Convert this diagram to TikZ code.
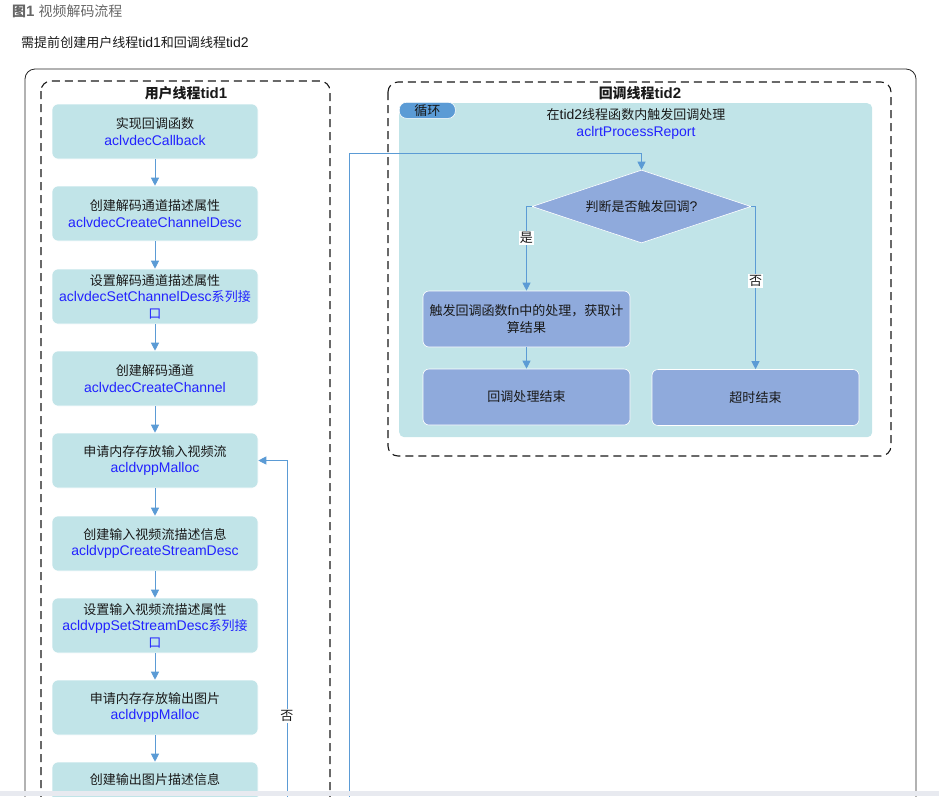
\documentclass[tikz,border=0pt]{standalone}
\usepackage{fontspec}
\setmainfont{Liberation Sans}
\newfontfamily\cjkf[Scale=0.93]{Noto Sans CJK SC}
\usetikzlibrary{shapes.geometric,arrows.meta,calc}

\definecolor{cyanbox}{HTML}{C1E4E8}
\definecolor{darkbox}{HTML}{8FAADC}
\definecolor{linkblue}{HTML}{5B9BD5}
\definecolor{apiblue}{HTML}{2222FF}
\definecolor{stripgray}{HTML}{E8EAF0}
\newcommand\apitxt[1]{\textcolor{apiblue}{#1}}

\tikzset{
  stepbox/.style={draw=white, line width=0.6pt, fill=cyanbox, rounded corners=6pt,
    minimum width=206pt, minimum height=55pt, align=center, inner sep=2pt,
    font=\fontsize{14}{16.5}\selectfont, text=black!90},
  dbox/.style={stepbox, fill=darkbox, minimum width=207pt, minimum height=56pt},
  arr/.style={draw=linkblue, line width=0.9pt, -{Triangle[width=8pt,length=8pt]}},
  lbl/.style={fill=white, inner sep=1pt, font=\fontsize{14}{15}\selectfont\cjkf, text=black!90},
  frametitle/.style={font=\fontsize{15}{17}\selectfont\bfseries, text=black!90},
  dashframe/.style={draw=black!90, line width=1.1pt, dash pattern=on 8pt off 5pt, rounded corners=10pt},
}

\begin{document}
\begin{tikzpicture}[x=1pt,y=-1pt]
\useasboundingbox (0,0) rectangle (939,796);
\clip (0,0) rectangle (939,796);

% headings
\node[anchor=west, inner sep=0, font=\fontsize{15}{17}\selectfont, text=black!60] (fig) at (12,11)
  {\textbf{{\cjkf 图}1} {\cjkf 视频解码流程}};
\node[anchor=west, inner sep=0, font=\fontsize{14}{16}\selectfont, text=black!90] (pre) at (21,43)
  {{\cjkf 需提前创建用户线程}tid1{\cjkf 和回调线程}tid2};

% frames
\draw[black!85, line width=0.8pt, rounded corners=10pt] (25,69) rectangle (916,840);
\draw[dashframe] (41,81) rectangle (330,840);
\draw[dashframe] (388,82) rectangle (891,456);
\node[frametitle] (t1) at (186,93) {{\cjkf 用户线程}tid1};
\node[frametitle] (t2) at (640,93) {{\cjkf 回调线程}tid2};

% left column
\node[stepbox] (m1) at (155,131.5) {{\cjkf 实现回调函数}\\\apitxt{aclvdecCallback}};
\node[stepbox] (m2) at (155,213.5) {{\cjkf 创建解码通道描述属性}\\\apitxt{aclvdecCreateChannelDesc}};
\node[stepbox] (m3) at (155,296.5) {{\cjkf 设置解码通道描述属性}\\\apitxt{aclvdecSetChannelDesc{\cjkf 系列接}}\\\apitxt{\cjkf 口}};
\node[stepbox] (m4) at (155,378.5) {{\cjkf 创建解码通道}\\\apitxt{aclvdecCreateChannel}};
\node[stepbox] (m5) at (155,460.5) {{\cjkf 申请内存存放输入视频流}\\\apitxt{acldvppMalloc}};
\node[stepbox] (m6) at (155,543.5) {{\cjkf 创建输入视频流描述信息}\\\apitxt{acldvppCreateStreamDesc}};
\node[stepbox] (m7) at (155,625.5) {{\cjkf 设置输入视频流描述属性}\\\apitxt{acldvppSetStreamDesc{\cjkf 系列接}}\\\apitxt{\cjkf 口}};
\node[stepbox] (m8) at (155,707.5) {{\cjkf 申请内存存放输出图片}\\\apitxt{acldvppMalloc}};
\node[stepbox] (m9) at (155,789.5) {{\cjkf 创建输出图片描述信息}\\\strut};

\foreach \a/\b in {m1/m2,m2/m3,m3/m4,m4/m5,m5/m6,m6/m7,m7/m8,m8/m9}
  \draw[arr] (\a.south) -- (\b.north);

% loop back arrow
\coordinate (lb) at (287,800);
\draw[arr] (lb) |- (m5.east);
\node[lbl] (no1) at (287,716) {否};

% right region
\node[fill=cyanbox, rounded corners=5pt, minimum width=473pt, minimum height=334pt, inner sep=0, anchor=north west] (loop) at (399,103) {};
\node[fill=linkblue, draw=white, line width=0.6pt, rounded corners=7pt, minimum width=56pt, minimum height=16pt, inner sep=0, anchor=north west,
  font=\fontsize{14}{15}\selectfont\cjkf, text=black!90] (tag) at (399,102) {循环};
\node[align=center, font=\fontsize{14}{16.5}\selectfont, text=black!90] (lt) at (636,124)
  {{\cjkf 在}tid2{\cjkf 线程函数内触发回调处理}\\\apitxt{aclrtProcessReport}};

\node[diamond, aspect=3, draw=white, line width=0.6pt, fill=darkbox, minimum width=219pt, minimum height=73pt, inner sep=0,
  font=\fontsize{14}{15}\selectfont, text=black!90] (d) at (641.5,206.5) {{\cjkf 判断是否触发回调}?};

\node[dbox] (b1) at (526.5,319) {{\cjkf 触发回调函数}fn{\cjkf 中的处理，获取计}\\{\cjkf 算结果}};
\node[dbox] (b2) at (526.5,397) {{\cjkf 回调处理结束}};
\node[dbox] (b3) at (755.5,397.5) {{\cjkf 超时结束}};

\draw[arr] (d.west) -| (b1.north);
\draw[arr] (d.east) -| (b3.north);
\draw[arr] (b1.south) -- (b2.north);
\node[lbl] (yes) at (526.5,238) {是};
\node[lbl] (no2) at (755.5,281) {否};

% entry arrow into loop
\coordinate (rb) at (349,800);
\coordinate (rt) at (641.5,153);
\draw[arr] (rb) |- (rt) -- (d.north);

% bottom strip
\fill[stripgray] (0,791) rectangle (939,796);
\end{tikzpicture}
\end{document}
